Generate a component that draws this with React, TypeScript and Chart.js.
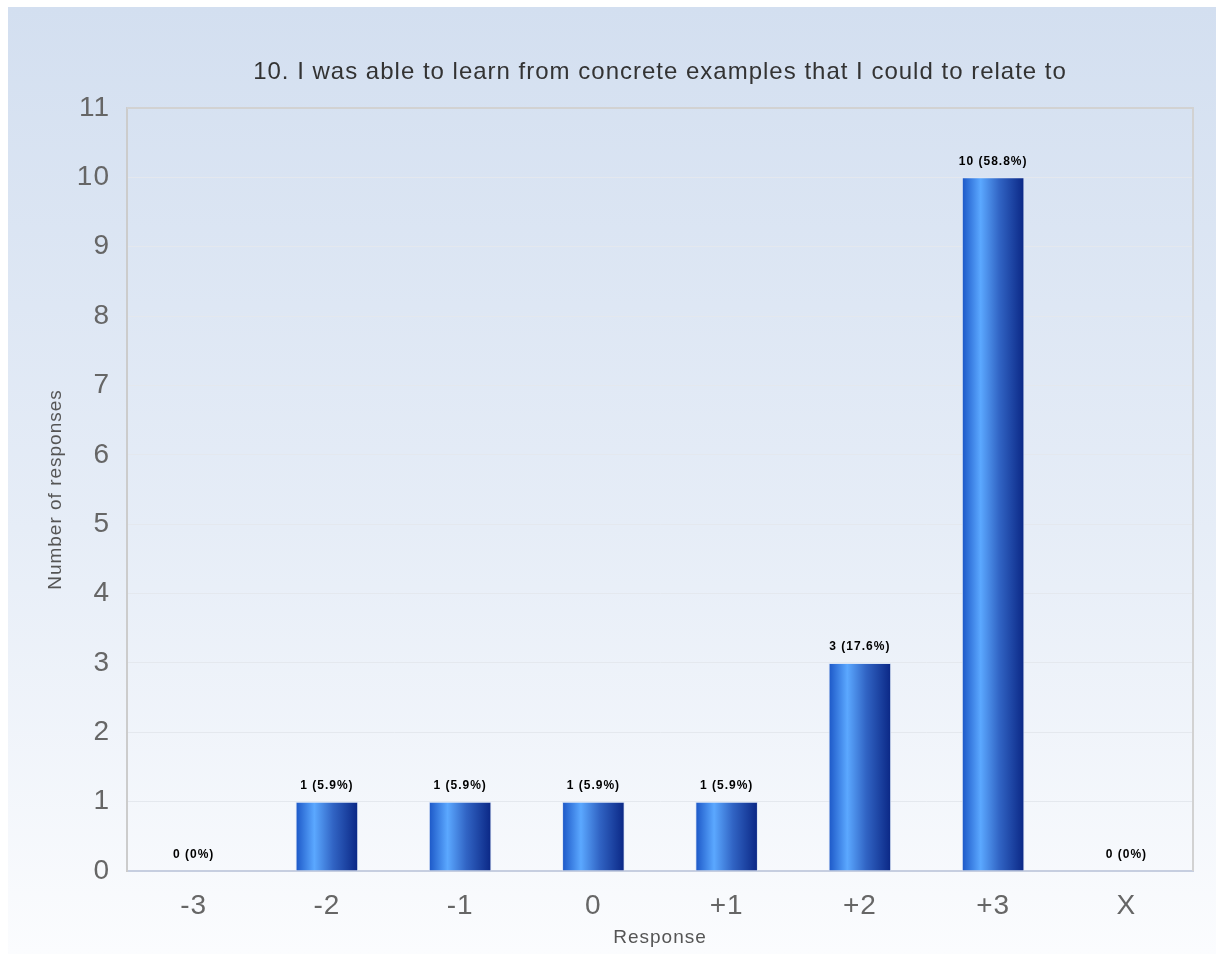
import React, { useEffect, useRef } from "react";
import { Chart, registerables } from "chart.js";

Chart.register(...registerables);

const chartTitle = "10. I was able to learn from concrete examples that I could to relate to";
const categories = ["-3", "-2", "-1", "0", "+1", "+2", "+3", "X"];
const responseCounts = [0, 1, 1, 1, 1, 3, 10, 0];
const valueLabels = ["0 (0%)", "1 (5.9%)", "1 (5.9%)", "1 (5.9%)", "1 (5.9%)", "3 (17.6%)", "10 (58.8%)", "0 (0%)"];
const yAxisTitle = "Number of responses";
const xAxisTitle = "Response";

const FONT = "'Liberation Sans', Arial, Helvetica, sans-serif";
const BAR_FRACTION = 0.47;
const PANEL_LEFT = 8;
const PANEL_TOP = 7;

const setSpacing = (chart: any) => {
  const ctx: any = chart.ctx;
  if (ctx && "letterSpacing" in ctx) ctx.letterSpacing = "1px";
};

const backgroundPlugin = {
  id: "bgPanel",
  beforeUpdate(chart: any) {
    setSpacing(chart);
  },
  beforeLayout(chart: any) {
    setSpacing(chart);
  },
  beforeDraw(chart: any) {
    setSpacing(chart);
    const { ctx, width, height } = chart;
    ctx.save();
    ctx.fillStyle = "#ffffff";
    ctx.fillRect(0, 0, width, height);
    const g = ctx.createLinearGradient(0, PANEL_TOP, 0, height);
    g.addColorStop(0, "#d3dff0");
    g.addColorStop(0.55, "#e6edf7");
    g.addColorStop(1, "#fbfcfe");
    ctx.fillStyle = g;
    ctx.fillRect(PANEL_LEFT, PANEL_TOP, width - PANEL_LEFT, height - PANEL_TOP);
    ctx.restore();
  },
  beforeDatasetsDraw(chart: any) {
    const { ctx, chartArea } = chart;
    ctx.save();
    ctx.strokeStyle = "#d2d2d2";
    ctx.lineWidth = 2;
    ctx.beginPath();
    ctx.moveTo(chartArea.left, chartArea.top);
    ctx.lineTo(chartArea.right, chartArea.top);
    ctx.lineTo(chartArea.right, chartArea.bottom);
    ctx.stroke();
    ctx.restore();
  },
  afterDraw(chart: any) {
    const { ctx, chartArea } = chart;
    ctx.save();
    ctx.fillStyle = "#333333";
    ctx.font = `24px ${FONT}`;
    ctx.textAlign = "center";
    ctx.textBaseline = "middle";
    ctx.fillText(chartTitle, (chartArea.left + chartArea.right) / 2, 72);
    ctx.restore();
  },
};

const valueLabelPlugin = {
  id: "valueLabels",
  afterDatasetsDraw(chart: any) {
    const { ctx } = chart;
    const meta = chart.getDatasetMeta(0);
    ctx.save();
    ctx.fillStyle = "#000000";
    ctx.font = `bold 12px ${FONT}`;
    ctx.textAlign = "center";
    ctx.textBaseline = "middle";
    meta.data.forEach((bar: any, i: number) => {
      ctx.fillText(valueLabels[i], bar.x, bar.y - 16);
    });
    ctx.restore();
  },
};

export default function App() {
  const canvasRef = useRef<HTMLCanvasElement | null>(null);

  useEffect(() => {
    document.documentElement.style.overflow = "hidden";
    document.body.style.overflow = "hidden";
    document.body.style.margin = "0";
    const canvas = canvasRef.current;
    if (!canvas) return;
    const chart = new Chart(canvas, {
      type: "bar",
      data: {
        labels: categories,
        datasets: [
          {
            data: responseCounts,
            backgroundColor: (c: any) => {
              const ch = c.chart;
              const xs = ch.scales?.x;
              if (!xs || c.dataIndex === undefined) return "#2f6fd8";
              const cx = xs.getPixelForValue(c.dataIndex);
              const w = (xs.width / categories.length) * BAR_FRACTION;
              if (!Number.isFinite(cx) || !Number.isFinite(w) || w <= 0) return "#2f6fd8";
              const g = ch.ctx.createLinearGradient(cx - w / 2, 0, cx + w / 2, 0);
              g.addColorStop(0, "#1b56c6");
              g.addColorStop(0.3, "#5ba8ff");
              g.addColorStop(0.6, "#3164c4");
              g.addColorStop(1, "#0a2684");
              return g;
            },
            borderColor: "#dbe6f6",
            borderWidth: 1,
            categoryPercentage: 1,
            barPercentage: BAR_FRACTION,
          },
        ],
      },
      options: {
        animation: false,
        responsive: false,
        maintainAspectRatio: false,
        layout: { padding: { top: 108, right: 23, left: 0, bottom: 0 } },
        plugins: {
          legend: { display: false },
          title: { display: false },
          tooltip: { enabled: false },
        },
        scales: {
          x: {
            grid: { display: false, drawTicks: false },
            border: { display: true, color: "#c6cee0", width: 2 },
            ticks: {
              color: "#666666",
              font: { family: FONT, size: 28 },
              padding: 18,
            },
            title: {
              display: true,
              text: xAxisTitle,
              color: "#555555",
              font: { family: FONT, size: 19 },
              padding: { top: 0, bottom: 5 },
            },
            afterFit: (s: any) => {
              s.height = 83;
            },
          },
          y: {
            min: 0,
            max: 11,
            grid: { color: "#e4e8ee", drawTicks: false, lineWidth: 1 },
            border: { display: true, color: "#cccccc", width: 2 },
            ticks: {
              stepSize: 1,
              color: "#666666",
              font: { family: FONT, size: 28 },
              padding: 17,
            },
            title: {
              display: true,
              text: yAxisTitle,
              color: "#555555",
              font: { family: FONT, size: 19 },
              padding: { top: 44, bottom: 0 },
            },
            afterFit: (s: any) => {
              s.width = 127;
            },
          },
        },
      },
      plugins: [backgroundPlugin, valueLabelPlugin],
    });
    chart.update();
    return () => chart.destroy();
  }, []);

  return (
    <div style={{ width: 1216, height: 954 }}>
      <canvas ref={canvasRef} width={1216} height={954} style={{ display: "block" }} />
    </div>
  );
}
